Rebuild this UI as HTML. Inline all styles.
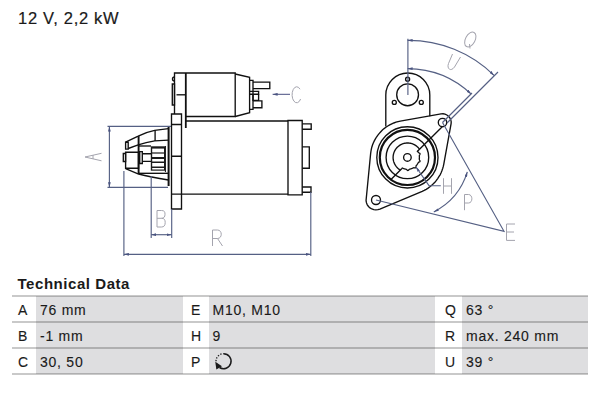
<!DOCTYPE html>
<html><head><meta charset="utf-8">
<style>
html,body{margin:0;padding:0;background:#fff;width:600px;height:400px;overflow:hidden;position:relative;font-family:"Liberation Sans",sans-serif;color:#1a1a1a}
.t{position:absolute;white-space:nowrap;line-height:1}
#title{left:18px;top:10px;font-size:16.5px;letter-spacing:0.7px;-webkit-text-stroke:0.2px #1a1a1a}
#td{left:17.5px;top:276px;font-size:15px;font-weight:bold;letter-spacing:0.55px}
.row{position:absolute;left:12px;width:576px;height:26px}
.c{position:absolute;top:0;height:100%}
.g{background:#dedee0}
.ln{position:absolute;left:12px;width:576px;height:2px;background:rgba(0,0,0,0.21)}
.k,.v{position:absolute;font-size:14px;line-height:1;letter-spacing:0.75px;white-space:nowrap;-webkit-text-stroke:0.12px #1a1a1a}
svg{position:absolute;left:0;top:0}
</style></head><body>
<div class="t" id="title">12 V, 2,2 kW</div>
<div class="t" id="td">Technical Data</div>

<div class="c g" style="left:36px;width:146.5px;top:296px;height:78px;position:absolute"></div>
<div class="c g" style="left:208.75px;width:226.25px;top:296px;height:78px;position:absolute"></div>
<div class="c g" style="left:461.7px;width:126.3px;top:296px;height:78px;position:absolute"></div>
<div class="ln" style="top:295px"></div>
<div class="ln" style="top:321px"></div>
<div class="ln" style="top:347px"></div>
<div class="ln" style="top:373px"></div>

<div class="k" style="left:18px;top:302.5px">A</div>
<div class="v" style="left:40px;top:302.5px">76 mm</div>
<div class="k" style="left:18px;top:328.5px">B</div>
<div class="v" style="left:40px;top:328.5px">-1 mm</div>
<div class="k" style="left:18px;top:354.5px">C</div>
<div class="v" style="left:40px;top:354.5px">30, 50</div>

<div class="k" style="left:191px;top:302.5px">E</div>
<div class="v" style="left:212.5px;top:302.5px">M10, M10</div>
<div class="k" style="left:191px;top:328.5px">H</div>
<div class="v" style="left:212.5px;top:328.5px">9</div>
<div class="k" style="left:191px;top:354.5px">P</div>

<div class="k" style="left:445px;top:302.5px">Q</div>
<div class="v" style="left:466px;top:302.5px">63 °</div>
<div class="k" style="left:445px;top:328.5px">R</div>
<div class="v" style="left:466px;top:328.5px">max. 240 mm</div>
<div class="k" style="left:445px;top:354.5px">U</div>
<div class="v" style="left:466px;top:354.5px">39 °</div>

<svg width="600" height="400" viewBox="0 0 600 400">
<!-- P icon -->
<g fill="none" stroke="#1a1a1a" stroke-width="1.5">
  <path d="M223.5 353.7 A7.5 7.5 0 1 1 219.5 367.5"/>
  <path d="M216 361.2 A7.5 7.5 0 0 1 223.5 353.7" stroke-dasharray="1.3 1.5" stroke-width="1.3"/>
  <path d="M215.3 361.8 L216.3 369.6 L222 366.2 Z" fill="#1a1a1a" stroke="none"/>
</g>

<!-- LEFT VIEW black -->
<g fill="none" stroke="#111" stroke-width="1.35" stroke-linejoin="miter">
  <!-- solenoid -->
  <path d="M174.5 114 V73 H235.2 V116.5 H186"/>
  <path d="M185.8 73 V128" stroke-width="1.8"/>
  <path d="M176.5 94.8 H186"/>
  <path d="M172.3 84 H174.5 V105 H172.3 Z"/>
  <path d="M174.5 77 A2 2 0 0 0 174.5 81"/>
  <path d="M235.2 74 L249.6 77.3 V112.7 L235.2 116.5"/>
  <path d="M249.6 80.3 H253 V109.4 H249.6"/>
  <path d="M253 82.1 H269.8 V88.6 H253"/>
  <path d="M249.6 91.4 H258.6 V94.2 H249.6"/>
  <path d="M253 94.2 V100.4 H258.6 V94.2"/>
  <path d="M253 100.9 H261.9 V107.7 H253"/>
  <!-- motor body -->
  <path d="M186 121 H288 M171.5 194.1 H288"/>
  <path d="M288 120.5 H302.2 V194.8 H288 Z"/>
  <path d="M302.2 123.8 H311.2 V129.2 H302.2"/>
  <path d="M302.2 146.8 H309.3 V168.2 H302.2"/>
  <path d="M302.2 187 H311 V192.2 H302.2"/>
  <!-- flange plate -->
  <path d="M171.5 114 H181.5 V209 H171.5 Z"/>
  <path d="M171.5 124.5 H181.5 M171.5 156.2 H181.5"/>
  <!-- nose housing -->
  <path d="M125.6 142.2 L138.2 136.1 Q146 132 154.7 130.3 L168.5 128.6"/>
  <path d="M128.2 148.5 L138.2 144.8 Q146 142.3 154.7 140.9 L168.5 140.2"/>
  <path d="M125.6 142.2 H128.2 V149.1 H125.6 Z"/>
  <path d="M155.1 130.3 V140.9"/>
  <path d="M168.6 126.4 V186" stroke-width="2"/>
    <path d="M138.5 146 H151"/>
  <path d="M123.3 153.5 H125.6 V161.5 H123.3 Z"/>
  <path d="M125.6 152.2 H138.5 V168.2 H125.6 Z"/>
  <path d="M138.6 136.1 V174" stroke-width="1.9"/>
  <path d="M139.7 151.6 H142.3 V163.5 H139.7 Z"/>
  <path d="M142.3 153.7 H151 M142.3 161.3 H151"/>
  <path d="M125.6 168.6 L138.6 174 Q150 177 168.5 180"/>
  <path d="M138.6 173.3 H168.5"/>
  <!-- pinion -->
  <rect x="150.8" y="146.3" width="14.6" height="24.4" fill="#1a1a1a" stroke="none"/>
  <g fill="#fff" stroke="none"><rect x="152.2" y="148.6" width="11.8" height="3.8"/><rect x="152.2" y="153.6" width="11.8" height="3.4"/><rect x="152.2" y="159" width="11.8" height="2.5"/><rect x="152.2" y="163" width="11.8" height="3.5"/><rect x="152.2" y="168" width="11.8" height="1.5"/></g>
  <path d="M165.4 146 V172" stroke-width="1"/>
</g>

<!-- LEFT VIEW blue dims -->
<defs>
<marker id="ar" markerUnits="userSpaceOnUse" markerWidth="5" markerHeight="2.8" refX="5" refY="1.4" orient="auto-start-reverse" viewBox="0 0 5 2.8"><path d="M0 0 L5 1.4 L0 2.8 Z" fill="#4a5480"/></marker>
</defs>
<g fill="none" stroke="#556084" stroke-width="1.15">
  <path d="M107.5 126.4 H171 M107.5 187.4 H168"/>
  <path d="M109.4 126.6 V187.2" marker-start="url(#ar)" marker-end="url(#ar)"/>
  <path d="M123.9 171 V256 M151.2 176 V238 M171.7 209 V238 M310.8 192 V256"/>
  <path d="M151.2 234.7 H171.7" marker-start="url(#ar)" marker-end="url(#ar)"/>
  <path d="M123.9 254.3 H310.8" marker-start="url(#ar)" marker-end="url(#ar)"/>
</g>
<!-- C arrow -->
<g fill="none" stroke="#484e80" stroke-width="1.0">
  <path d="M272.6 94.3 H290" marker-start="url(#ar)"/>
</g>

<!-- letters light -->
<g fill="none" stroke="#a4a4ae" stroke-width="1">
  <!-- C -->
  <path d="M300 89.2 A4.6 8 0 1 0 300.6 99"/>
  <!-- A rotated -->
  <path d="M101.5 153.3 L85 157 L101.5 160.8 M93 155 V159"/>
  <!-- B -->
  <path d="M157 227 V210.5 H161.5 C164.5 210.5 165 212 165 214.3 C165 216.8 164 218.3 161.5 218.3 H157 M161.5 218.3 C164.5 218.3 165.2 220 165.2 222.5 C165.2 225.5 164 227 161.5 227 H157"/>
  <!-- R -->
  <path d="M212.5 246 V230 H217.5 C222.5 230 222.5 238.5 217.5 238.5 H212.5 M217.5 238.5 L222.5 246"/>
</g>

<!-- RIGHT VIEW black -->
<g fill="none" stroke="#111" stroke-width="1.35">
  <!-- tab -->
  <path d="M385.8 126.4 V95 A22 22 0 0 1 429.8 95 V116.2"/>
  <circle cx="407.6" cy="94.8" r="10.9"/>
  <circle cx="407.6" cy="79.2" r="2"/>
  <circle cx="394.3" cy="102.4" r="2"/>
  <circle cx="421.3" cy="102.4" r="2"/>
  <!-- flange outline -->
  <path d="M366.1 200.0 L370.6 153.9 L370.9 151.6 L371.3 149.4 L371.8 147.2 L372.5 145.0 L373.3 142.9 L374.3 140.9 L375.4 138.9 L376.5 137.0 L377.9 135.1 L379.3 133.4 L380.8 131.7 L382.4 130.1 L384.1 128.6 L385.9 127.3 L387.8 126.0 L389.7 124.9 L391.8 123.9 L393.8 123.0 L396.0 122.2 L398.1 121.6 L400.3 121.1 L441.0 113.9 L443.0 113.8 L445.0 114.2 L446.9 115.0 L448.5 116.2 L449.8 117.8 L450.7 119.7 L451.2 121.7 L451.1 123.7 L443.8 164.1 L443.3 166.4 L442.7 168.5 L441.9 170.7 L441.1 172.7 L440.1 174.8 L438.9 176.7 L437.7 178.6 L436.4 180.4 L434.9 182.2 L433.3 183.8 L431.7 185.3 L429.9 186.8 L428.1 188.1 L426.2 189.3 L424.2 190.4 L422.2 191.3 L379.9 209.1 L377.9 209.7 L375.8 209.9 L373.8 209.6 L371.8 209.0 L370.0 207.9 L368.5 206.5 L367.3 204.8 L366.5 202.9 L366.1 200.9 Z"/>
  <circle cx="376" cy="200" r="4.5"/>
  <circle cx="442.5" cy="122.5" r="4.2"/>
  <!-- rings -->
  <circle cx="407.4" cy="157.4" r="30.6"/>
  <circle cx="407.4" cy="157.4" r="27.6" stroke-width="2.2"/>
  <circle cx="407.4" cy="157.4" r="21.3"/>
  <circle cx="407.4" cy="157.4" r="3.8"/>
  <path d="M419.55 149.29 L419.03 148.58 L418.47 147.90 L417.86 147.26 L417.22 146.65 L416.54 146.09 L415.83 145.56 L415.09 145.09 L414.33 144.65 L413.53 144.27 L412.72 143.93 L411.88 143.65 L411.03 143.41 L410.17 143.23 L409.30 143.10 L408.42 143.02 L407.54 143.00 L406.66 143.03 L405.78 143.11 L404.91 143.25 L404.05 143.44 L403.21 143.68 L402.37 143.97 L401.56 144.32 L400.77 144.71 L400.01 145.15 L399.27 145.63 L398.57 146.16 L397.89 146.73 L397.26 147.34 L396.66 147.99 L396.10 148.67 L395.58 149.38 L395.11 150.13 L394.69 150.90 L394.31 151.70 L393.98 152.51 L393.71 153.35 L393.48 154.20 L393.31 155.07 L393.18 155.94 L393.12 156.82 L393.10 157.70 L393.14 158.58 L393.23 159.46 L393.38 160.33 L393.58 161.18 L393.83 162.03 L394.13 162.86 L394.48 163.67 L394.88 164.45 L395.32 165.21 L395.81 165.94 L396.35 166.65 L396.92 167.31 L397.54 167.94 L398.19 168.53 L398.88 169.09 L399.60 169.59 L400.35 170.06"/>
  <path d="M401.70 167.72 L401.93 167.85 L402.17 167.98 L402.41 168.10 L402.65 168.21 L402.89 168.32 L403.14 168.42 L403.39 168.52 L403.64 168.62 L403.89 168.70 L404.15 168.78 L404.40 168.86 L404.66 168.93 L404.92 168.99 L405.18 169.05 L405.44 169.11 L405.71 169.16 L405.97 169.22 L406.23 169.31 L406.49 169.44 L406.74 169.64 L407.01 169.89 L407.28 170.17 L407.57 170.39 L407.86 170.49 L408.16 170.44 L408.44 170.23 L408.70 169.95 L408.96 169.67 L409.20 169.44 L409.45 169.28 L409.71 169.16 L409.97 169.08 L410.22 169.01 L410.48 168.94 L410.74 168.87 L411.00 168.80 L411.25 168.72 L411.51 168.63 L411.76 168.54 L412.01 168.45 L412.25 168.34 L412.50 168.24 L412.74 168.12 L412.99 168.01 L413.23 167.90 L413.49 167.81 L413.77 167.76 L414.09 167.75 L414.44 167.79 L414.82 167.85 L415.20 167.87 L415.51 167.80 L415.73 167.61 L415.85 167.29 L415.90 166.92 L415.94 166.53 L415.99 166.19 L416.09 165.90 L416.22 165.65 L416.37 165.43 L416.54 165.22 L416.71 165.01 L416.87 164.80 L417.04 164.59 L417.19 164.37 L417.35 164.15 L417.49 163.93 L417.64 163.70 L417.78 163.47 L417.91 163.24 L418.05 163.01 L418.19 162.78 L418.35 162.56 L418.55 162.36 L418.80 162.17 L419.12 162.00 L419.47 161.83 L419.78 161.63 L419.99 161.39 L420.05 161.10 L419.97 160.78 L419.79 160.44 L419.61 160.10 L419.46 159.79 L419.37 159.50 L419.33 159.22 L419.33 158.95 L419.35 158.68 L419.37 158.42 L419.38 158.15 L419.39 157.88 L419.40 157.61 L419.40 157.35 L419.39 157.08 L419.38 156.81 L419.36 156.55 L419.35 156.28 L419.33 156.01 L419.34 155.74 L419.38 155.46 L419.47 155.16 L419.63 154.85 L419.82 154.51 L419.99 154.17 L420.06 153.85 L419.97 153.57 L419.74 153.34 L419.42 153.15 L419.07 152.98 L418.76 152.80 L418.52 152.61 L418.32 152.41 L418.17 152.18 L418.03 151.95 L417.89 151.72 L417.76 151.49 L417.62 151.26 L417.47 151.04 L417.32 150.82" stroke-width="1.3"/>
  <path d="M442 127 L417 151.8 M401.9 168.5 L390.5 180"/>
</g>

<!-- RIGHT VIEW blue -->
<g fill="none" stroke="#556084" stroke-width="1.15">
  <path d="M407.9 38.8 V95"/>
  <path d="M407.6 40.4 A122 122 0 0 1 494 75.4" marker-start="url(#ar)" marker-end="url(#ar)"/>
  <path d="M407.6 68.6 A93.4 93.4 0 0 1 471.2 94.1" marker-start="url(#ar)" marker-end="url(#ar)"/>
  <path d="M447 123 L498 72 M442.5 122.5 L472 93"/>
  <path d="M442.5 122.5 L504 231.3 L376 200"/>
  <path d="M467.3 171.9 A66.8 66.8 0 0 1 433.8 211.9" marker-start="url(#ar)" marker-end="url(#ar)"/>
  <path d="M416 167 L429 185.7 H440.8" marker-start="url(#ar)"/>
</g>

<!-- light letters right -->
<g fill="none" stroke="#a4a4ae" stroke-width="1">
  <ellipse cx="470.3" cy="39.5" rx="4.8" ry="8" transform="rotate(28 470.3 39.5)"/>
  <path d="M469.5 44 L470 48.5"/>
  <path d="M452.5 54 L448.5 63.5 C446.5 69 451 72 454.5 67 L460.5 57" />
</g>
<g fill="none" stroke="#a4a4ae" stroke-width="1">
  <path d="M443.5 178.2 V193.8 M451.5 178.2 V193.8 M443.5 186 H451.5"/>
  <path d="M464.5 210.2 V194.5 H468.5 C473 194.5 473 203 468.5 203 H464.5"/>
  <path d="M515 224 H506.5 V240.4 H515 M506.5 232 H514"/>
</g>
</svg>
</body></html>
